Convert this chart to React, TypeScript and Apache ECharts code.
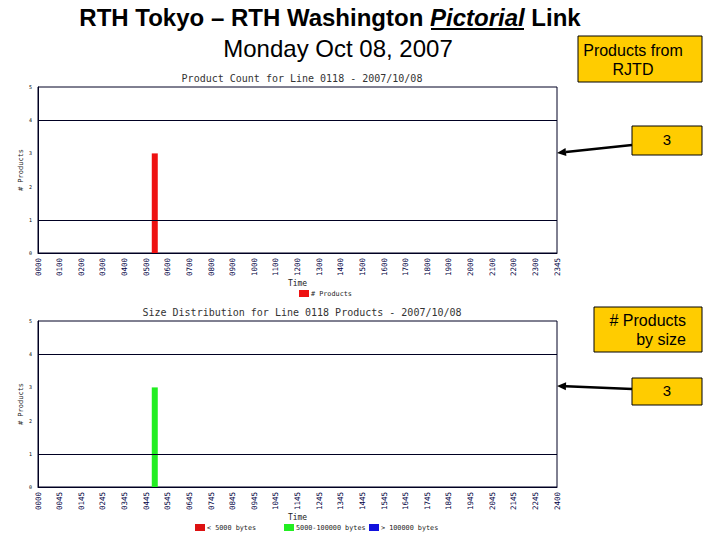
import React, { useEffect, useRef } from "react";
import * as echarts from "echarts";

const topLabels = ["0000","0100","0200","0300","0400","0500","0600","0700","0800","0900","1000","1100","1200","1300","1400","1500","1600","1700","1800","1900","2000","2100","2200","2300","2345"];
const bottomLabels = ["0000","0045","0145","0245","0345","0445","0545","0645","0745","0845","0945","1045","1145","1245","1345","1445","1545","1645","1745","1845","1945","2045","2145","2245","2400"];
const yTicks = [0, 1, 2, 3, 4, 5];
const productCount: [number, number][] = [[5.4, 3]];
const sizeSmall: [number, number][] = [];
const sizeMedium: [number, number][] = [[5.4, 3]];
const sizeLarge: [number, number][] = [];
const countNote = "3";
const sizeNote = "3";

const tinyFont = "DejaVu Sans Mono";
const gold = "#FFCC00";
const sans = "'Liberation Sans', Arial, sans-serif";

function xAxisFor(gridIndex: number, labels: string[]) {
  return {
    type: "value" as const,
    gridIndex,
    min: 0,
    max: labels.length - 1,
    interval: 1,
    name: "Time",
    nameLocation: "middle" as const,
    nameGap: 23,
    nameTextStyle: { fontSize: 8, color: "#222", fontFamily: tinyFont },
    axisLine: { show: true, lineStyle: { color: "#000022", width: 1 } },
    axisTick: { show: false },
    splitLine: { show: false },
    axisLabel: {
      rotate: 90,
      fontSize: 7.5,
      color: "#000044",
      fontFamily: tinyFont,
      margin: 5,
      formatter: (v: number) => labels[Math.round(v)] ?? "",
    },
  };
}

function yAxisFor(gridIndex: number) {
  return {
    type: "value" as const,
    gridIndex,
    min: yTicks[0],
    max: yTicks[yTicks.length - 1],
    interval: 1,
    name: "# Products",
    nameLocation: "middle" as const,
    nameGap: 14,
    nameMoveOverlap: false,
    nameTextStyle: { fontSize: 7, color: "#222", fontFamily: tinyFont },
    axisLine: { show: true, lineStyle: { color: "#000022", width: 1 } },
    axisTick: { show: false },
    splitLine: { show: false },
    axisLabel: { fontSize: 5, color: "#000", fontFamily: tinyFont, margin: 6 },
  };
}

const gridMarks = {
  silent: true,
  symbol: "none",
  label: { show: false },
  lineStyle: { color: "#000022", width: 1, type: "solid" as const },
  data: [{ yAxis: 1 }, { yAxis: 4 }],
};

const legendText = { fontSize: 6.8, color: "#222", fontFamily: tinyFont, padding: [0, 0, 0, -3] };

export default function App() {
  const ref = useRef<HTMLDivElement>(null);
  useEffect(() => {
    if (!ref.current) return;
    const chart = echarts.init(ref.current, null, { renderer: "svg" });
    const box = (x: number, y: number, w: number, h: number) => ({
      type: "rect",
      shape: { x, y, width: w, height: h },
      style: { fill: gold, stroke: "#000", lineWidth: 1 },
    });
    const arrow = (x1: number, y1: number, x2: number, y2: number) => {
      const ang = Math.atan2(y2 - y1, x2 - x1);
      const L = 9, W = 4;
      const bx = x2 - L * Math.cos(ang), by = y2 - L * Math.sin(ang);
      const px = -Math.sin(ang) * W, py = Math.cos(ang) * W;
      return [
        { type: "line", shape: { x1, y1, x2: bx, y2: by }, style: { stroke: "#000", lineWidth: 2.5 } },
        { type: "polygon", shape: { points: [[x2, y2], [bx + px, by + py], [bx - px, by - py]] }, style: { fill: "#000" } },
      ];
    };
    const legendItem = (name: string, left: number, top: number) => ({
      data: [name], left, top, itemWidth: 10, itemHeight: 7, icon: "rect", padding: 0, textStyle: legendText,
    });
    chart.setOption({
      animation: false,
      backgroundColor: "#fff",
      title: [
        {
          text: "Product Count for Line 0118 - 2007/10/08",
          left: 297, top: 68, textAlign: "center",
          textStyle: { fontSize: 10, fontWeight: "normal", color: "#333", fontFamily: tinyFont },
        },
        {
          text: "Size Distribution for Line 0118 Products - 2007/10/08",
          left: 297, top: 302, textAlign: "center",
          textStyle: { fontSize: 10, fontWeight: "normal", color: "#333", fontFamily: tinyFont },
        },
      ],
      legend: [
        legendItem("# Products", 299, 290),
        legendItem("< 5000 bytes", 195, 524),
        legendItem("5000-100000 bytes", 284, 524),
        legendItem("> 100000 bytes", 369, 524),
      ],
      grid: [
        { left: 38, top: 87, width: 519, height: 166, show: true, borderColor: "#000022", borderWidth: 1, backgroundColor: "#fff" },
        { left: 38, top: 321, width: 519, height: 166, show: true, borderColor: "#000022", borderWidth: 1, backgroundColor: "#fff" },
      ],
      xAxis: [xAxisFor(0, topLabels), xAxisFor(1, bottomLabels)],
      yAxis: [yAxisFor(0), yAxisFor(1)],
      series: [
        {
          name: "# Products", type: "bar", xAxisIndex: 0, yAxisIndex: 0, data: productCount,
          barWidth: 6, itemStyle: { color: "#EE1111" }, markLine: gridMarks,
        },
        {
          name: "< 5000 bytes", type: "bar", stack: "size", xAxisIndex: 1, yAxisIndex: 1, data: sizeSmall,
          barWidth: 6, itemStyle: { color: "#DD1111" }, markLine: gridMarks,
        },
        {
          name: "5000-100000 bytes", type: "bar", stack: "size", xAxisIndex: 1, yAxisIndex: 1, data: sizeMedium,
          barWidth: 6, itemStyle: { color: "#22EE22" },
        },
        {
          name: "> 100000 bytes", type: "bar", stack: "size", xAxisIndex: 1, yAxisIndex: 1, data: sizeLarge,
          barWidth: 6, itemStyle: { color: "#1111DD" },
        },
      ],
      graphic: [
        {
          type: "text", x: 330, y: 5,
          style: {
            text: "RTH Tokyo – RTH Washington {p|Pictorial} Link",
            font: "bold 24px " + sans,
            fill: "#000",
            align: "center",
            rich: { p: { fontStyle: "italic", fontWeight: "bold", fontSize: 24, fontFamily: "Liberation Sans" } },
          },
        },
        { type: "line", shape: { x1: 431, y1: 29, x2: 524, y2: 29 }, style: { stroke: "#000", lineWidth: 2 } },
        {
          type: "text", x: 338, y: 36,
          style: { text: "Monday Oct 08, 2007", font: "24px " + sans, fill: "#000", align: "center" },
        },
        box(578, 36, 124, 46),
        { type: "text", x: 633, y: 41, style: { text: "Products from\nRJTD", font: "16px " + sans, fill: "#000", align: "center", lineHeight: 19 } },
        box(632, 126, 70, 29),
        { type: "text", x: 667, y: 132, style: { text: countNote, font: "15px " + sans, fill: "#000", align: "center" } },
        box(594, 307, 108, 45),
        { type: "text", x: 686, y: 311, style: { text: "# Products\nby size", font: "16px " + sans, fill: "#000", align: "right", lineHeight: 19 } },
        box(632, 378, 70, 27),
        { type: "text", x: 667, y: 383, style: { text: sizeNote, font: "15px " + sans, fill: "#000", align: "center" } },
        ...arrow(632, 145, 557, 153),
        ...arrow(632, 389, 557, 386),
      ],
    });
    return () => chart.dispose();
  }, []);
  return <div ref={ref} style={{ position: "fixed", left: 0, top: 0, width: 720, height: 540 }} />;
}
